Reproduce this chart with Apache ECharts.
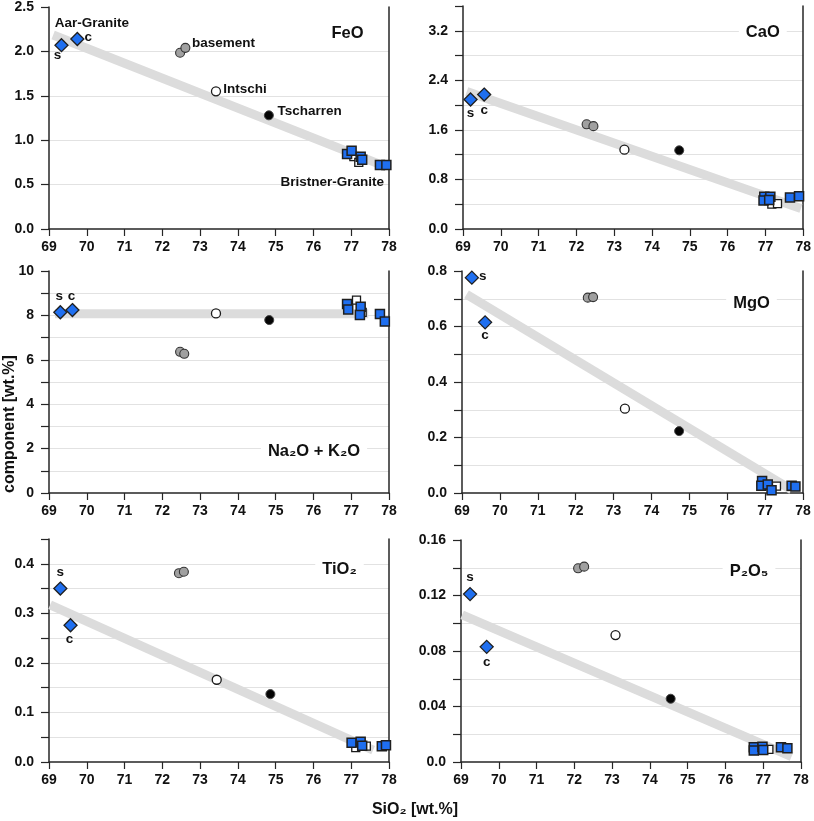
<!DOCTYPE html>
<html><head><meta charset="utf-8">
<script src="https://cdn.jsdelivr.net/npm/echarts@6/dist/echarts.min.js"></script>
<style>html,body{margin:0;padding:0;background:#fff}#c{width:814px;height:821px}</style>
</head><body><div id="c"></div>
<script>
// ---------- data ----------
const xTickLabels = ['69','70','71','72','73','74','75','76','77','78'];

// FeO
const feoAar = [[69.33, 2.07], [69.75, 2.14]];
const feoBasement = [[72.47, 1.985], [72.61, 2.04]];
const feoIntschi = [[73.42, 1.55]];
const feoTscharren = [[74.82, 1.28]];
const feoBristner = [[76.89, 0.845], [77.01, 0.88], [77.25, 0.815], [77.29, 0.78], [77.76, 0.72], [77.93, 0.72]];
const feoBristnerOpen = [[77.07, 0.815], [77.2, 0.75]];
const feoTrend = [[69.11, 2.185], [77.93, 0.70]];
const feoTicks = ['0.0','0.5','1.0','1.5','2.0','2.5'];

// CaO
const caoAar = [[69.2, 2.09], [69.56, 2.17]];
const caoBasement = [[72.27, 1.69], [72.45, 1.66]];
const caoIntschi = [[73.27, 1.28]];
const caoTscharren = [[74.72, 1.27]];
const caoBristner = [[76.97, 0.52], [76.95, 0.46], [77.13, 0.52], [77.1, 0.47], [77.65, 0.51], [77.89, 0.53]];
const caoBristnerOpen = [[77.17, 0.40], [77.32, 0.41]];
const caoTrend = [[69.1, 2.22], [77.94, 0.33]];
const caoTicks = ['0.0','0.8','1.6','2.4','3.2'];

// Na2O + K2O
const alkAar = [[69.3, 8.14], [69.62, 8.24]];
const alkBasement = [[72.47, 6.36], [72.58, 6.27]];
const alkIntschi = [[73.42, 8.09]];
const alkTscharren = [[74.83, 7.79]];
const alkBristner = [[76.89, 8.51], [76.92, 8.27], [77.25, 8.39], [77.23, 8.02], [77.76, 8.06], [77.89, 7.72]];
const alkBristnerOpen = [[77.14, 8.69], [77.29, 8.14]];
const alkTrend = [[69.16, 8.07], [77.45, 8.07]];
const alkTicks = ['0','2','4','6','8','10'];

// MgO
const mgoAar = [[69.26, 0.776], [69.61, 0.615]];
const mgoBasement = [[72.32, 0.704], [72.46, 0.706]];
const mgoIntschi = [[73.3, 0.304]];
const mgoTscharren = [[74.73, 0.223]];
const mgoBristner = [[76.92, 0.043], [76.9, 0.026], [77.07, 0.031], [77.17, 0.01], [77.7, 0.026], [77.8, 0.023]];
const mgoBristnerOpen = [[77.3, 0.025]];
const mgoTrend = [[69.12, 0.716], [77.7, 0.011]];
const mgoTicks = ['0.0','0.2','0.4','0.6','0.8'];

// TiO2
const tioAar = [[69.3, 0.35], [69.57, 0.276]];
const tioBasement = [[72.44, 0.381], [72.57, 0.384]];
const tioIntschi = [[73.44, 0.166]];
const tioTscharren = [[74.86, 0.137]];
const tioBristner = [[77.01, 0.039], [77.25, 0.041], [77.29, 0.033], [77.81, 0.032], [77.92, 0.034]];
const tioBristnerOpen = [[77.12, 0.029], [77.4, 0.032]];
const tioTrend = [[69.03, 0.317], [77.58, 0.024]];
const tioTicks = ['0.0','0.1','0.2','0.3','0.4'];

// P2O5
const p2o5Aar = [[69.24, 0.121], [69.68, 0.083]];
const p2o5Basement = [[72.1, 0.1396], [72.26, 0.1408]];
const p2o5Intschi = [[73.09, 0.0915]];
const p2o5Tscharren = [[74.55, 0.0456]];
const p2o5Bristner = [[76.75, 0.0106], [76.75, 0.0082], [76.98, 0.011], [77.0, 0.0087], [77.47, 0.0106], [77.64, 0.0099]];
const p2o5BristnerOpen = [[77.15, 0.0091]];
const p2o5Trend = [[69.03, 0.106], [77.75, 0.0038]];
const p2o5Ticks = ['0.0','0.04','0.08','0.12','0.16'];

// ---------- chart ----------
const BLUE = '#1f6ff0';
const INK = '#111111';
const AXIS = '#262626';
const FONT = '"Liberation Sans", Arial, sans-serif';

const panels = [
  {aar: feoAar, basement: feoBasement, intschi: feoIntschi, tscharren: feoTscharren, bristner: feoBristner, open: feoBristnerOpen, trend: feoTrend, ticks: feoTicks, max: 2.5, interval: 0.5,
   grid: {left: 49, top: 7, width: 340, height: 222}},
  {aar: caoAar, basement: caoBasement, intschi: caoIntschi, tscharren: caoTscharren, bristner: caoBristner, open: caoBristnerOpen, trend: caoTrend, ticks: caoTicks, max: 3.6, interval: 0.4,
   grid: {left: 463, top: 6, width: 341, height: 223}},
  {aar: alkAar, basement: alkBasement, intschi: alkIntschi, tscharren: alkTscharren, bristner: alkBristner, open: alkBristnerOpen, trend: alkTrend, ticks: alkTicks, max: 10, interval: 1,
   grid: {left: 49, top: 271, width: 340, height: 222}},
  {aar: mgoAar, basement: mgoBasement, intschi: mgoIntschi, tscharren: mgoTscharren, bristner: mgoBristner, open: mgoBristnerOpen, trend: mgoTrend, ticks: mgoTicks, max: 0.8, interval: 0.1,
   grid: {left: 462, top: 271, width: 341, height: 222}},
  {aar: tioAar, basement: tioBasement, intschi: tioIntschi, tscharren: tioTscharren, bristner: tioBristner, open: tioBristnerOpen, trend: tioTrend, ticks: tioTicks, max: 0.45, interval: 0.05,
   grid: {left: 49, top: 539, width: 340, height: 223}},
  {aar: p2o5Aar, basement: p2o5Basement, intschi: p2o5Intschi, tscharren: p2o5Tscharren, bristner: p2o5Bristner, open: p2o5BristnerOpen, trend: p2o5Trend, ticks: p2o5Ticks, max: 0.16, interval: 0.02,
   grid: {left: 461, top: 540, width: 340, height: 222}}
];

const tickFont = {color: INK, fontFamily: FONT, fontWeight: 'bold', fontSize: 14};
const grids = [], xAxes = [], yLeft = [], yRight = [], series = [];

panels.forEach((p, i) => {
  grids.push(Object.assign({containLabel: false}, p.grid));
  xAxes.push({
    gridIndex: i, type: 'value', min: 69, max: 78, interval: 1,
    axisLine: {show: true, onZero: false, lineStyle: {color: AXIS, width: 1.5}},
    axisTick: {show: true, length: 7, lineStyle: {color: AXIS, width: 1.2}},
    axisLabel: Object.assign({margin: 11, formatter: v => xTickLabels.find(s => Math.abs(parseFloat(s) - v) < 1e-6) || ''}, tickFont),
    splitLine: {show: false}
  });
  const tol = p.interval * 1e-3;
  yLeft.push({
    gridIndex: i, type: 'value', min: 0, max: p.max, interval: p.interval,
    axisLine: {show: true, onZero: false, lineStyle: {color: AXIS, width: 1.5}},
    axisTick: {show: true, length: 8, lineStyle: {color: AXIS, width: 1.2}},
    axisLabel: Object.assign({margin: 15, showMaxLabel: true, formatter: v => p.ticks.find(s => Math.abs(parseFloat(s) - v) < tol) || ''}, tickFont),
    splitLine: {show: true, showMinLine: false, showMaxLine: false, lineStyle: {color: '#e2e2e2', width: 1}}
  });
  yRight.push({
    gridIndex: i, type: 'value', position: 'right', min: 0, max: p.max, interval: p.interval,
    axisLine: {show: true, onZero: false, lineStyle: {color: AXIS, width: 1.5}},
    axisTick: {show: false}, axisLabel: {show: false}, splitLine: {show: false}
  });
});

panels.forEach((p, i) => {
  const base = {xAxisIndex: i, yAxisIndex: i, animation: false};
  series.push(Object.assign({type: 'line', data: p.trend, symbol: 'none', silent: true, z: 1,
    lineStyle: {color: '#dcdcdc', width: 9, cap: 'butt', opacity: 1}}, base));
  series.push(Object.assign({type: 'scatter', data: p.basement, symbol: 'circle', symbolSize: 9, z: 3,
    itemStyle: {color: '#a0a0a0', borderColor: '#333', borderWidth: 1.1, opacity: 1}}, base));
  series.push(Object.assign({type: 'scatter', data: p.intschi, symbol: 'circle', symbolSize: 9, z: 3,
    itemStyle: {color: '#ffffff', borderColor: '#1a1a1a', borderWidth: 1.3, opacity: 1}}, base));
  series.push(Object.assign({type: 'scatter', data: p.tscharren, symbol: 'circle', symbolSize: 9, z: 3,
    itemStyle: {color: '#050505', borderColor: '#444', borderWidth: 1, opacity: 1}}, base));
  series.push(Object.assign({type: 'scatter', data: p.open, symbol: 'rect', symbolSize: 8, z: 3,
    itemStyle: {color: '#ffffff', borderColor: '#1a1a1a', borderWidth: 1.3, opacity: 1}}, base));
  series.push(Object.assign({type: 'scatter', data: p.bristner, symbol: 'rect', symbolSize: 9, z: 4,
    itemStyle: {color: BLUE, borderColor: '#1f1f1f', borderWidth: 1.5, opacity: 1}}, base));
  series.push(Object.assign({type: 'scatter', data: p.aar, symbol: 'diamond', symbolSize: 13, z: 4,
    itemStyle: {color: BLUE, borderColor: '#1f1f1f', borderWidth: 1.3, opacity: 1}}, base));
});

// annotation labels attached to data points (offsets in px from the point)
const annotations = [
  [0, feoAar, 0, 's', -4, 10, 'center'],
  [0, feoAar, 1, 'c', 11, -2, 'center'],
  [0, feoAar, 0, 'Aar-Granite', -6.7, -22.3, 'left'],
  [0, feoBasement, 1, 'basement', 6.7, -4.7, 'left'],
  [0, feoIntschi, 0, 'Intschi', 7.3, -1.7, 'left'],
  [0, feoTscharren, 0, 'Tscharren', 8.7, -3.6, 'left'],
  [0, feoBristner, 5, 'Bristner-Granite', -2.4, 17.7, 'right'],
  [1, caoAar, 0, 's', 0, 14, 'center'],
  [1, caoAar, 1, 'c', 0, 16, 'center'],
  [2, alkAar, 0, 's', -1, -16, 'center'],
  [2, alkAar, 1, 'c', -1, -14, 'center'],
  [3, mgoAar, 0, 's', 11, -1, 'center'],
  [3, mgoAar, 1, 'c', 0, 13, 'center'],
  [4, tioAar, 0, 's', 0, -16, 'center'],
  [4, tioAar, 1, 'c', -1, 14, 'center'],
  [5, p2o5Aar, 0, 's', 0, -17, 'center'],
  [5, p2o5Aar, 1, 'c', 0, 15, 'center']
];
annotations.forEach(([g, arr, idx, text, dx, dy, align]) => {
  series.push({
    type: 'scatter', xAxisIndex: g, yAxisIndex: g, animation: false, silent: true, z: 6,
    data: [arr[idx]], symbol: 'circle', symbolSize: 1,
    itemStyle: {color: 'transparent', borderWidth: 0, opacity: 1},
    label: {show: true, position: 'inside', formatter: text, align: align, verticalAlign: 'middle',
      offset: [dx, dy], color: INK, opacity: 1, textBorderWidth: 0,
      fontFamily: FONT, fontWeight: 'bold', fontSize: 13.5}
  });
});

const panelTitles = [
  ['FeO', 340.5, 31.7], ['CaO', 755.8, 30.7], ['Na\u2082O + K\u2082O', 307, 449],
  ['MgO', 744.5, 301.7], ['TiO\u2082', 332.5, 567.7], ['P\u2082O\u2085', 742, 569.3]
];
const titles = panelTitles.map(([t, x, y]) => ({
  text: t, left: x, top: y, textAlign: 'center', textVerticalAlign: 'middle',
  padding: [2, 7], backgroundColor: '#ffffff',
  textStyle: {color: INK, fontFamily: FONT, fontWeight: 'bold', fontSize: 16.5}
}));

const option = {
  animation: false,
  backgroundColor: '#ffffff',
  title: titles,
  grid: grids,
  xAxis: xAxes,
  yAxis: yLeft.concat(yRight),
  series: series,
  graphic: [
    {type: 'text', x: 10, y: 424, rotation: Math.PI / 2,
     style: {text: 'component [wt.%]', font: 'bold 16px "Liberation Sans", Arial, sans-serif', fill: INK,
       align: 'center', verticalAlign: 'middle', textAlign: 'center', textVerticalAlign: 'middle'}},
    {type: 'text', x: 415, y: 810,
     style: {text: 'SiO\u2082 [wt.%]', font: 'bold 16px "Liberation Sans", Arial, sans-serif', fill: INK,
       align: 'center', verticalAlign: 'middle', textAlign: 'center', textVerticalAlign: 'middle'}}
  ]
};
// right border axes must reference the same grids
option.yAxis.forEach((a, k) => { a.gridIndex = k % 6; });

const chart = echarts.init(document.getElementById('c'));
chart.setOption(option);
</script>
</body></html>
